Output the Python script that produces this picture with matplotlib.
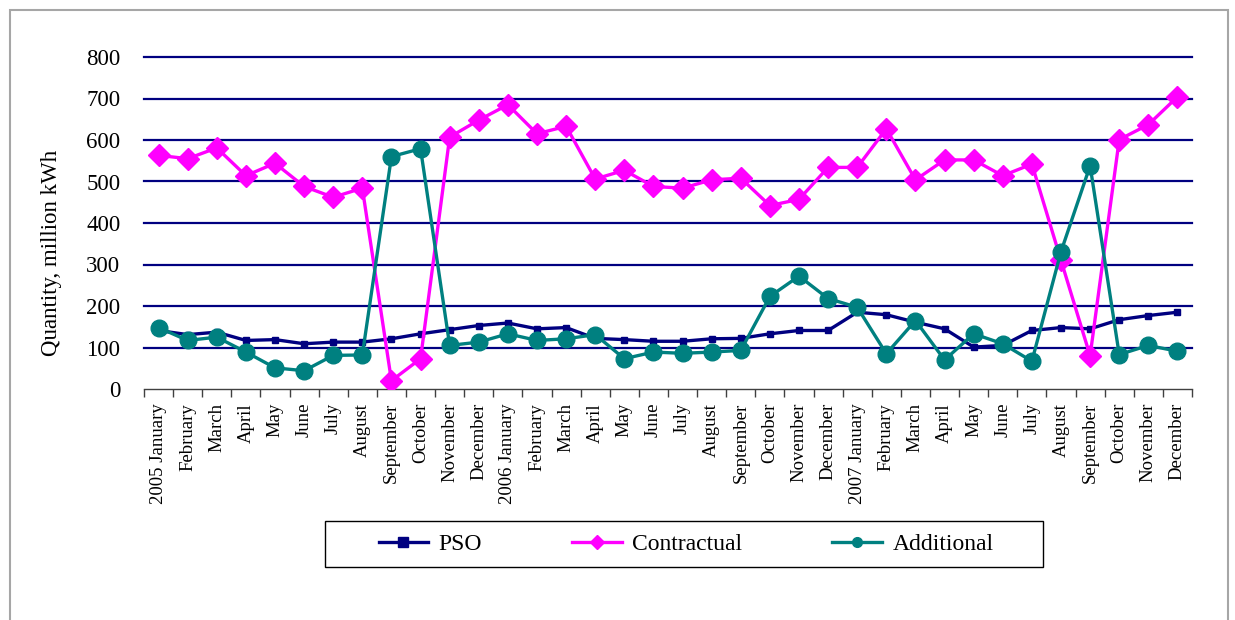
import matplotlib
matplotlib.use('Agg')
import matplotlib.pyplot as plt
from matplotlib.patches import Rectangle
import numpy as np

plt.rcParams['font.family'] = ['Liberation Serif', 'DejaVu Serif']

# month labels on the x axis
months = ['January', 'February', 'March', 'April', 'May', 'June', 'July',
          'August', 'September', 'October', 'November', 'December']
years = ['2005', '2006', '2007']
labels = []
for y in years:
    for m in months:
        labels.append(y + ' ' + m if m == 'January' else m)

# values (million kWh)
pso = [141, 131, 137, 117, 119, 109, 113, 113, 121, 133, 143, 153,
       159, 145, 148, 122, 119, 115, 115, 121, 122, 133, 141, 141,
       185, 179, 161, 145, 101, 105, 141, 148, 145, 167, 177, 185]
contractual = [563, 555, 581, 514, 544, 488, 462, 484, 20, 73, 607, 648,
               685, 615, 633, 506, 527, 488, 484, 504, 508, 442, 457, 534,
               534, 627, 504, 552, 552, 514, 542, 310, 80, 601, 637, 704]
additional = [148, 117, 125, 89, 51, 44, 81, 82, 560, 579, 105, 113,
              133, 117, 121, 131, 73, 89, 86, 89, 93, 223, 272, 218,
              197, 85, 165, 70, 133, 109, 67, 331, 538, 83, 105, 91]

W, H = 1235, 620
fig = plt.figure(figsize=(W / 100, H / 100), dpi=100)

# gray frame around the whole chart
fig.patches.append(Rectangle((10 / W, -0.05), 1218 / W, 1.05 - 10 / H,
                             transform=fig.transFigure, fill=False,
                             edgecolor='#a6a6a6', linewidth=1.5))

ax = fig.add_axes([144 / W, 1 - 389 / H, 1048 / W, 332 / H])
x = np.arange(len(labels))

ax.plot(x, pso, color='#000080', linewidth=2.4, marker='s', markersize=4.5,
        label='PSO', zorder=3)
ax.plot(x, contractual, color='#ff00ff', linewidth=2.4, marker='D',
        markersize=11, label='Contractual', zorder=4)
ax.plot(x, additional, color='#008080', linewidth=2.4, marker='o',
        markersize=12, label='Additional', zorder=5)

ax.set_xlim(-0.5, len(labels) - 0.5)
ax.set_ylim(0, 800)
ax.set_yticks(np.arange(0, 801, 100))
for v in range(100, 801, 100):
    ax.axhline(v, color='#000080', linewidth=1.6, zorder=1, clip_on=False)

ax.set_xticks(x)
ax.set_xticklabels(labels, rotation=90, fontsize=13.5, va='top', ha='center')
ax.set_xticks(np.arange(len(labels) + 1) - 0.5, minor=True)
ax.tick_params(axis='x', which='major', length=0, pad=10)
ax.tick_params(axis='x', which='minor', length=6, width=1, color='#404040')
ax.tick_params(axis='y', length=0, labelsize=16.5, pad=17)

for s in ['top', 'right', 'left']:
    ax.spines[s].set_visible(False)
ax.spines['bottom'].set_color('#404040')
ax.spines['bottom'].set_linewidth(1)

ax.set_ylabel('Quantity, million kWh', fontsize=16.5)
ax.yaxis.set_label_coords(-(144 - 62) / 1048, (389 - 253) / 332)

# legend box drawn separately so it can be wider than its entries
fig.patches.append(Rectangle((325 / W, 1 - 567 / H), 718 / W, 46 / H,
                             transform=fig.transFigure, fill=False,
                             edgecolor='black', linewidth=1))
leg = fig.legend(loc='center', bbox_to_anchor=(686 / W, 1 - 544 / H), ncol=3,
                 fontsize=17, frameon=False, handlelength=2.1,
                 columnspacing=3.8, handletextpad=0.45)
for h in leg.legend_handles:
    h.set_markersize(7)

fig.savefig('out.png', dpi=100)
